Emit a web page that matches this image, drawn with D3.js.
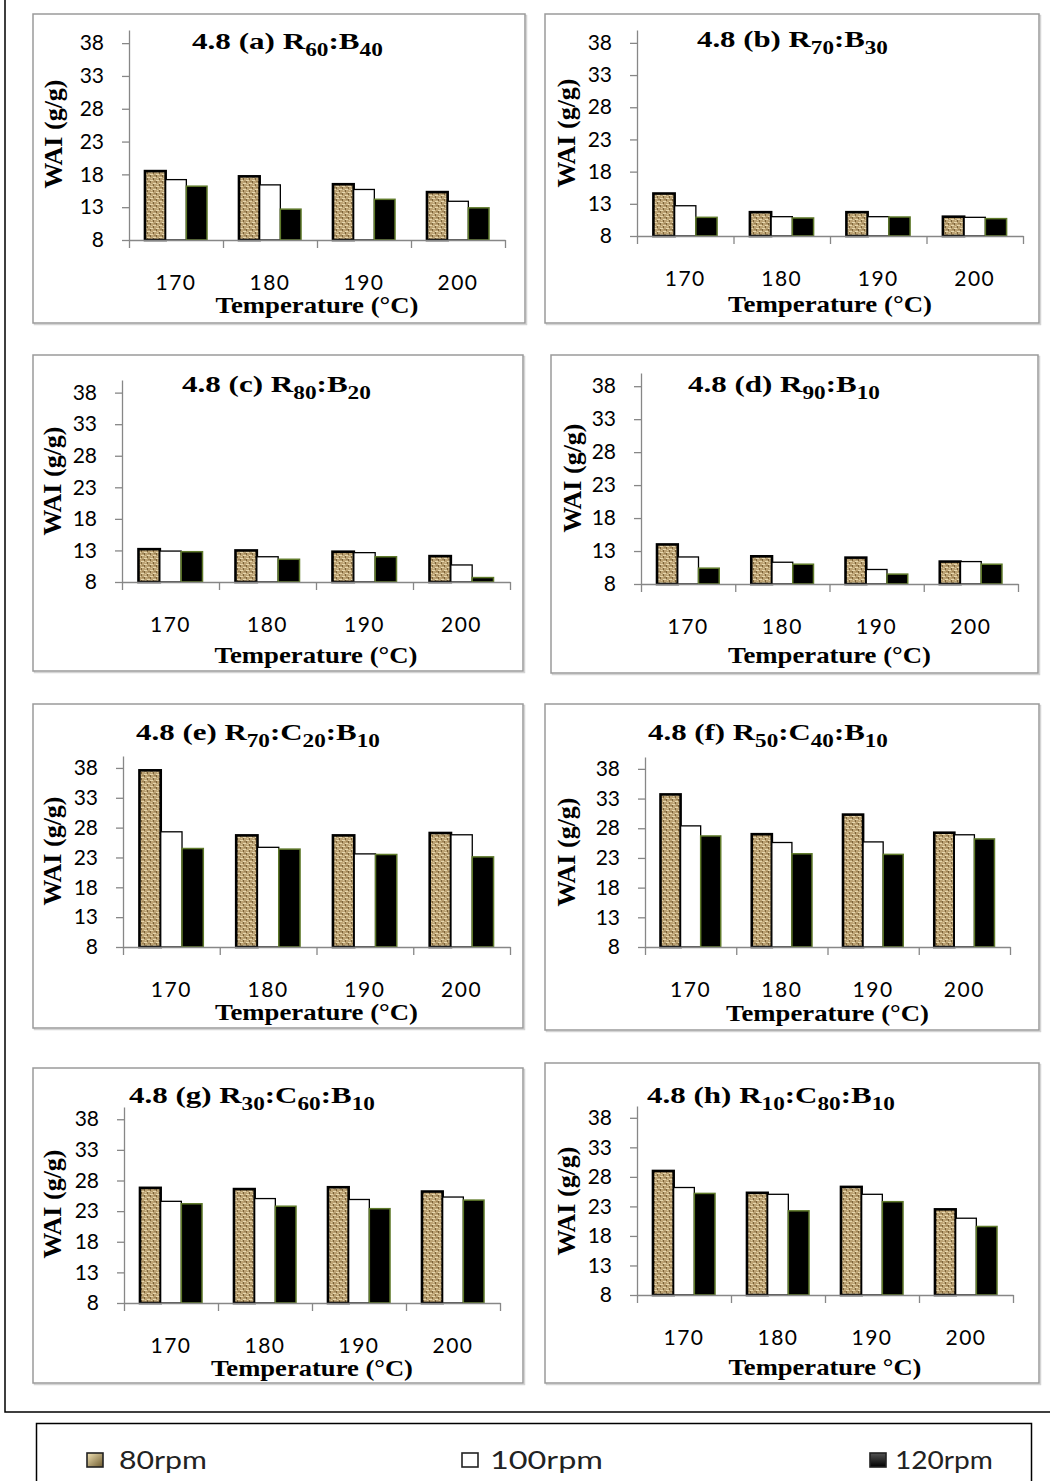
<!DOCTYPE html>
<html>
<head>
<meta charset="utf-8">
<script src="https://cdn.jsdelivr.net/npm/d3@7"></script>
<style>
  body { margin: 0; background: #fff; }
  svg { display: block; }
</style>
</head>
<body>
<div class="canvas"></div>
<script>
// categories, series and ticks
const temps = ["170", "180", "190", "200"];
const speeds = ["80rpm", "100rpm", "120rpm"];
const yTicks = [8, 13, 18, 23, 28, 33, 38];

// WAI (g/g): one row per screw speed (80, 100, 120 rpm), one column per temperature
const waiA = [[18.5, 17.7, 16.5, 15.3], [17.2, 16.4, 15.7, 13.9], [16.2, 12.7, 14.2, 12.9]];
const waiB = [[14.6, 11.7, 11.7, 11.0], [12.7, 11.0, 11.0, 10.9], [10.9, 10.8, 10.95, 10.7]];
const waiC = [[13.2, 13.0, 12.8, 12.1], [12.9, 12.0, 12.65, 10.7], [12.8, 11.6, 12.0, 8.7]];
const waiD = [[14.0, 12.2, 12.0, 11.4], [12.1, 11.3, 10.2, 11.4], [10.4, 11.0, 9.5, 11.0]];
const waiE = [[37.6, 26.7, 26.7, 27.1], [27.3, 24.7, 23.6, 26.8], [24.5, 24.4, 23.5, 23.1]];
const waiF = [[33.7, 27.0, 30.3, 27.25], [28.4, 25.6, 25.7, 26.9], [26.7, 23.7, 23.6, 26.2]];
const waiG = [[26.8, 26.6, 26.9, 26.2], [24.6, 25.05, 24.9, 25.3], [24.2, 23.8, 23.4, 24.8]];
const waiH = [[29.0, 25.3, 26.3, 22.5], [26.2, 25.05, 25.05, 21.0], [25.2, 22.25, 23.8, 19.6]];

// panel titles as [text, isSubscript]
const titleA = [["4.8 (a) R", 0], ["60", 1], [":B", 0], ["40", 1]];
const titleB = [["4.8 (b) R", 0], ["70", 1], [":B", 0], ["30", 1]];
const titleC = [["4.8 (c) R", 0], ["80", 1], [":B", 0], ["20", 1]];
const titleD = [["4.8 (d) R", 0], ["90", 1], [":B", 0], ["10", 1]];
const titleE = [["4.8 (e) R", 0], ["70", 1], [":C", 0], ["20", 1], [":B", 0], ["10", 1]];
const titleF = [["4.8 (f) R", 0], ["50", 1], [":C", 0], ["40", 1], [":B", 0], ["10", 1]];
const titleG = [["4.8 (g) R", 0], ["30", 1], [":C", 0], ["60", 1], [":B", 0], ["10", 1]];
const titleH = [["4.8 (h) R", 0], ["10", 1], [":C", 0], ["80", 1], [":B", 0], ["10", 1]];

const yTitle = "WAI (g/g)";
const xTitle = "Temperature (°C)";
const xTitleH = "Temperature °C)";

// layout: frame [x0,y0,x1,y1], plot [left,right,top,bottom], title [x,baseline,width],
// y title centre [x,y], x title [baseline,width]
const panels = [
  {data: waiA, title: titleA, xt: xTitle,  frame: [33, 14, 525, 323],     plot: [129, 505, 30, 240],    tl: [192, 49, 191],   yt: [54, 134],  xl: [313, 203]},
  {data: waiB, title: titleB, xt: xTitle,  frame: [545, 14, 1039, 323],   plot: [637, 1023, 30, 236],   tl: [697, 47, 191],   yt: [567, 133], xl: [312, 204]},
  {data: waiC, title: titleC, xt: xTitle,  frame: [33, 355, 523, 671],    plot: [122, 510, 380, 582],   tl: [182, 392, 189],  yt: [53, 481],  xl: [663, 203]},
  {data: waiD, title: titleD, xt: xTitle,  frame: [551, 355, 1038, 673],  plot: [641, 1018, 373, 584],  tl: [688, 392, 192],  yt: [573, 478], xl: [663, 203]},
  {data: waiE, title: titleE, xt: xTitle,  frame: [33, 704, 523, 1028],   plot: [123, 510, 756, 947],   tl: [136, 740, 244],  yt: [53, 851],  xl: [1020, 203]},
  {data: waiF, title: titleF, xt: xTitle,  frame: [545, 704, 1039, 1030], plot: [645, 1010, 757, 947],  tl: [648, 740, 240],  yt: [567, 852], xl: [1021, 203]},
  {data: waiG, title: titleG, xt: xTitle,  frame: [33, 1068, 523, 1383],  plot: [124, 500, 1107, 1303], tl: [129, 1103, 246], yt: [53, 1204], xl: [1376, 202]},
  {data: waiH, title: titleH, xt: xTitleH, frame: [545, 1063, 1039, 1383],plot: [637, 1013, 1106, 1295],tl: [647, 1103, 248], yt: [567, 1201], xl: [1375, 193]}
];

const serif = "'Liberation Serif', 'Times New Roman', serif";
const sans = "Lato, 'Open Sans', sans-serif";
const axisColor = "#878787";

const svg = d3.select(".canvas").append("svg")
  .attr("width", 1050)
  .attr("height", 1481);

const defs = svg.append("defs");

// woven tan texture for the 80rpm bars
const pat = defs.append("pattern")
  .attr("id", "weave")
  .attr("patternUnits", "userSpaceOnUse")
  .attr("width", 6).attr("height", 6);
pat.append("rect").attr("width", 6).attr("height", 6).attr("fill", "#bca273");
pat.append("rect").attr("x", 0).attr("y", 0).attr("width", 3).attr("height", 1).attr("fill", "#e6d6ad");
pat.append("rect").attr("x", 3).attr("y", 3).attr("width", 3).attr("height", 1).attr("fill", "#e6d6ad");
pat.append("rect").attr("x", 0).attr("y", 1).attr("width", 1).attr("height", 2).attr("fill", "#7a6238");
pat.append("rect").attr("x", 3).attr("y", 4).attr("width", 1).attr("height", 2).attr("fill", "#7a6238");
pat.append("rect").attr("x", 4).attr("y", 1).attr("width", 2).attr("height", 1).attr("fill", "#9c8255");
pat.append("rect").attr("x", 1).attr("y", 4).attr("width", 1).attr("height", 1).attr("fill", "#d8c79c");

const gradTan = defs.append("linearGradient").attr("id", "legTan")
  .attr("x1", 0).attr("y1", 0).attr("x2", 1).attr("y2", 1);
gradTan.append("stop").attr("offset", 0).attr("stop-color", "#f3e4b6");
gradTan.append("stop").attr("offset", 1).attr("stop-color", "#6d5a2e");
const gradBlk = defs.append("linearGradient").attr("id", "legBlk")
  .attr("x1", 0).attr("y1", 0).attr("x2", 0).attr("y2", 1);
gradBlk.append("stop").attr("offset", 0).attr("stop-color", "#555");
gradBlk.append("stop").attr("offset", 1).attr("stop-color", "#000");

// outer frame
svg.append("path")
  .attr("d", "M5,0V1412H1050")
  .attr("fill", "none")
  .attr("stroke", "#000")
  .attr("stroke-width", 1.5);

const barFill = ["url(#weave)", "#fff", "#000"];
const barStroke = ["#000", "#000", "#5f7a2a"];
const barStrokeW = [2.6, 1.3, 1.5];

panels.forEach(p => {
  const [fx0, fy0, fx1, fy1] = p.frame;
  const [left, right, top, bottom] = p.plot;
  const g = svg.append("g");

  // panel border with a light shadow
  g.append("rect")
    .attr("x", fx0 + 1.5).attr("y", fy0 + 1.5)
    .attr("width", fx1 - fx0).attr("height", fy1 - fy0)
    .attr("fill", "none").attr("stroke", "#d4d4d4").attr("stroke-width", 1.5);
  g.append("rect")
    .attr("x", fx0).attr("y", fy0)
    .attr("width", fx1 - fx0).attr("height", fy1 - fy0)
    .attr("fill", "#fff").attr("stroke", "#9a9a9a").attr("stroke-width", 1.5);

  const x0 = d3.scaleBand().domain(temps).range([left, right])
    .paddingInner(0.34).paddingOuter(0.17);
  const x1 = d3.scaleBand().domain(speeds).range([0, x0.bandwidth()]);
  const y = d3.scaleLinear().domain([8, 40]).range([bottom, top]);

  // bars
  const rows = [];
  p.data.forEach((vals, s) => vals.forEach((v, i) => rows.push({t: temps[i], s: s, v: v})));
  g.selectAll("rect.bar")
    .data(rows)
    .enter()
    .append("rect")
    .attr("class", "bar")
    .attr("x", d => x0(d.t) + x1(speeds[d.s]))
    .attr("y", d => y(d.v))
    .attr("width", x1.bandwidth())
    .attr("height", d => y(8) - y(d.v))
    .attr("fill", d => barFill[d.s])
    .attr("stroke", d => barStroke[d.s])
    .attr("stroke-width", d => barStrokeW[d.s]);

  // y axis
  const yAxisG = g.append("g")
    .attr("transform", `translate(${left},0)`)
    .call(d3.axisLeft(y).tickValues(yTicks).tickSize(7).tickPadding(18).tickSizeOuter(0));
  yAxisG.attr("font-family", sans).attr("font-size", 21);
  yAxisG.selectAll("path, line").attr("stroke", axisColor).attr("stroke-width", 1.3);
  yAxisG.selectAll("text").attr("fill", "#000");

  // x axis labels
  const xAxisG = g.append("g")
    .attr("transform", `translate(0,${bottom})`)
    .call(d3.axisBottom(x0).tickSize(0).tickPadding(35).tickSizeOuter(0));
  xAxisG.attr("font-family", sans).attr("font-size", 21);
  xAxisG.selectAll("path").attr("stroke", axisColor).attr("stroke-width", 1.3);
  xAxisG.selectAll("text").attr("fill", "#000").attr("letter-spacing", "1.5px");

  // category boundary ticks
  const edge = d3.scaleLinear().domain([0, temps.length]).range([left, right]);
  const edgeG = g.append("g")
    .attr("transform", `translate(0,${bottom})`)
    .call(d3.axisBottom(edge).tickValues(d3.range(temps.length + 1)).tickSize(8).tickFormat(""));
  edgeG.select(".domain").remove();
  edgeG.selectAll("line").attr("stroke", axisColor).attr("stroke-width", 1.3);

  // title, stretched to the reference width
  const tg = g.append("g");
  const tt = tg.append("text")
    .attr("font-family", serif)
    .attr("font-weight", "bold")
    .attr("font-size", 24)
    .attr("fill", "#000");
  p.title.forEach(([txt, sub], k) => {
    tt.append("tspan")
      .attr("font-size", sub ? 18 : 24)
      .attr("dy", sub ? 7 : (k > 0 ? -7 : 0))
      .text(txt);
  });
  const tLen = tt.node().getComputedTextLength();
  tg.attr("transform", `translate(${p.tl[0]},${p.tl[1]}) scale(${p.tl[2] / tLen},1)`);

  // y title
  g.append("text")
    .attr("transform", `translate(${p.yt[0] + 8},${p.yt[1]}) rotate(-90)`)
    .attr("text-anchor", "middle")
    .attr("font-family", serif)
    .attr("font-weight", "bold")
    .attr("font-size", 26)
    .text(yTitle);

  // x title
  const xg = g.append("g");
  const xt = xg.append("text")
    .attr("text-anchor", "middle")
    .attr("font-family", serif)
    .attr("font-weight", "bold")
    .attr("font-size", 24)
    .text(p.xt);
  const xLen = xt.node().getComputedTextLength();
  xg.attr("transform", `translate(${(left + right) / 2},${p.xl[0]}) scale(${p.xl[1] / xLen},1)`);
});

// legend
svg.append("rect")
  .attr("x", 36.5).attr("y", 1423.5)
  .attr("width", 995).attr("height", 80)
  .attr("fill", "#fff").attr("stroke", "#000").attr("stroke-width", 1.5);

const legendIcon = ["url(#legTan)", "#fff", "url(#legBlk)"];
const legendPos = [[87, 119, 88], [462, 490, 113], [870, 895, 98]];
speeds.forEach((s, i) => {
  const [ix, tx, tw] = legendPos[i];
  svg.append("rect")
    .attr("x", ix).attr("y", 1453)
    .attr("width", 16).attr("height", 14)
    .attr("fill", legendIcon[i])
    .attr("stroke", "#222").attr("stroke-width", 1.6);
  const lg = svg.append("g");
  const lt = lg.append("text")
    .attr("font-family", sans)
    .attr("font-size", 25)
    .attr("fill", "#222")
    .text(s);
  const len = lt.node().getComputedTextLength();
  lg.attr("transform", `translate(${tx},1469) scale(${tw / len},1)`);
});
</script>
</body>
</html>
